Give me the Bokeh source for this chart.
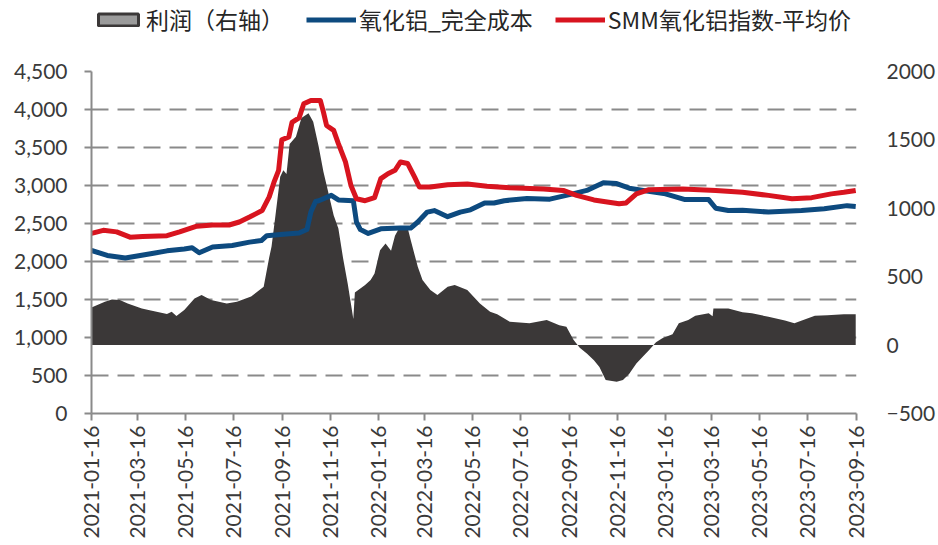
import pandas as pd
from bokeh.plotting import figure
from bokeh.layouts import column
from bokeh.models import (Range1d, LinearAxis, FixedTicker, NumeralTickFormatter,
                          DatetimeTickFormatter, Legend, LegendItem)
from bokeh.embed import file_html
from bokeh.resources import INLINE

# ---- SMM 氧化铝指数-平均价 (left axis, 元/吨)
smm_dates = [
    "2021-01-16", "2021-01-31", "2021-02-17", "2021-03-06", "2021-03-22", "2021-04-22",
    "2021-05-08", "2021-05-30", "2021-06-19", "2021-07-10", "2021-07-23", "2021-08-05",
    "2021-08-21", "2021-08-30", "2021-09-05", "2021-09-11", "2021-09-15", "2021-09-24",
    "2021-09-28", "2021-10-07", "2021-10-13", "2021-10-22", "2021-11-03", "2021-11-07",
    "2021-11-11", "2021-11-20", "2021-11-26", "2021-12-05", "2021-12-12", "2021-12-19",
    "2021-12-30", "2022-01-11", "2022-01-19", "2022-01-28", "2022-02-06", "2022-02-13",
    "2022-02-22", "2022-03-03", "2022-03-09", "2022-03-23", "2022-04-14", "2022-05-09",
    "2022-06-03", "2022-07-02", "2022-08-14", "2022-09-08", "2022-09-25", "2022-10-17",
    "2022-11-05", "2022-11-18", "2022-11-27", "2022-12-10", "2022-12-26", "2023-02-07",
    "2023-03-21", "2023-04-24", "2023-05-27", "2023-06-26", "2023-07-21", "2023-08-15",
    "2023-08-31", "2023-09-15",
]
smm_price = [
    2370, 2410, 2390, 2320, 2330, 2340,
    2390, 2465, 2480, 2480, 2520, 2585,
    2670, 2850, 3040, 3200, 3600, 3640,
    3830, 3890, 4075, 4120, 4120, 3965,
    3790, 3725, 3550, 3310, 3000, 2825,
    2800, 2840, 3090, 3155, 3200, 3310,
    3290, 3110, 2980, 2980, 3010, 3020,
    2990, 2970, 2955, 2935, 2870, 2810,
    2780, 2760, 2770, 2890, 2945, 2955,
    2935, 2910, 2870, 2825, 2840, 2890,
    2910, 2935,
]

# ---- 氧化铝_完全成本 (left axis, 元/吨)
cost_dates = [
    "2021-01-16", "2021-02-05", "2021-02-28", "2021-03-19", "2021-04-03", "2021-04-22",
    "2021-05-14", "2021-05-24", "2021-06-02", "2021-06-19", "2021-07-14", "2021-08-05",
    "2021-08-20", "2021-08-27", "2021-09-17", "2021-10-07", "2021-10-17", "2021-10-22",
    "2021-10-28", "2021-11-01", "2021-11-17", "2021-11-26", "2021-12-15", "2021-12-19",
    "2021-12-24", "2022-01-03", "2022-01-19", "2022-02-13", "2022-02-26", "2022-03-07",
    "2022-03-19", "2022-03-28", "2022-04-14", "2022-04-30", "2022-05-13", "2022-05-31",
    "2022-06-12", "2022-06-25", "2022-07-24", "2022-08-22", "2022-09-16", "2022-10-08",
    "2022-10-29", "2022-11-15", "2022-12-01", "2022-12-19", "2023-01-16", "2023-02-10",
    "2023-03-12", "2023-03-21", "2023-04-06", "2023-04-24", "2023-05-27", "2023-07-08",
    "2023-08-06", "2023-09-04", "2023-09-15",
]
full_cost = [
    2145, 2080, 2045, 2080, 2105, 2140,
    2165, 2180, 2115, 2190, 2210, 2255,
    2275, 2340, 2360, 2375, 2420, 2650,
    2790, 2800, 2870, 2810, 2800, 2520,
    2420, 2370, 2430, 2440, 2440, 2520,
    2650, 2670, 2590, 2650, 2680, 2770,
    2770, 2800, 2830, 2820, 2880, 2935,
    3035, 3025, 2965, 2935, 2890, 2815,
    2815, 2700, 2670, 2675, 2650, 2670,
    2695, 2735, 2725,
]

# ---- 利润 (right axis, 元/吨)
profit_dates = [
    "2021-01-16", "2021-02-02", "2021-02-11", "2021-02-21", "2021-03-03", "2021-03-21",
    "2021-03-31", "2021-04-22", "2021-04-28", "2021-05-04", "2021-05-14", "2021-05-27",
    "2021-06-05", "2021-06-17", "2021-07-07", "2021-07-20", "2021-08-07", "2021-08-23",
    "2021-08-30", "2021-09-02", "2021-09-07", "2021-09-13", "2021-09-17", "2021-09-21",
    "2021-09-25", "2021-10-03", "2021-10-10", "2021-10-19", "2021-10-25", "2021-11-01",
    "2021-11-07", "2021-11-13", "2021-11-20", "2021-11-26", "2021-12-02", "2021-12-08",
    "2021-12-12", "2021-12-15", "2021-12-17", "2021-12-30", "2022-01-06", "2022-01-11",
    "2022-01-18", "2022-01-25", "2022-02-01", "2022-02-06", "2022-02-10", "2022-02-22",
    "2022-02-26", "2022-03-07", "2022-03-13", "2022-03-23", "2022-04-01", "2022-04-14",
    "2022-04-23", "2022-05-09", "2022-05-25", "2022-06-07", "2022-06-16", "2022-07-02",
    "2022-07-27", "2022-08-18", "2022-09-03", "2022-09-12", "2022-09-21", "2022-09-29",
    "2022-10-08", "2022-10-17", "2022-10-24", "2022-11-01", "2022-11-15", "2022-11-23",
    "2022-12-01", "2022-12-10", "2022-12-19", "2022-12-26", "2023-01-04", "2023-01-12",
    "2023-01-25", "2023-02-02", "2023-02-14", "2023-02-23", "2023-03-12", "2023-03-17",
    "2023-03-18", "2023-04-06", "2023-04-24", "2023-05-06", "2023-05-27", "2023-06-17",
    "2023-06-29", "2023-07-25", "2023-08-10", "2023-08-31", "2023-09-15",
]
profit = [
    275, 317, 334, 330, 305, 268,
    255, 228, 244, 212, 256, 341,
    366, 329, 305, 317, 355, 426,
    640, 720, 950, 1230, 1279, 1250,
    1470, 1523, 1660, 1694, 1632, 1450,
    1267, 1121, 950, 853, 634, 445,
    300, 190, 385, 439, 475, 524,
    694, 743, 690, 800, 841, 860,
    768, 572, 475, 402, 366, 426,
    439, 402, 305, 244, 225, 170,
    159, 183, 146, 134, 40, -20,
    -61, -110, -160, -256, -268, -256,
    -210, -134, -80, -37, 20, 50,
    80, 159, 183, 215, 232, 210,
    268, 268, 240, 232, 207, 180,
    159, 215, 219, 225, 225,
]

# x-axis ticks: the 16th of every second month
tick_labels = [
    "2021-01-16", "2021-03-16", "2021-05-16", "2021-07-16", "2021-09-16", "2021-11-16",
    "2022-01-16", "2022-03-16", "2022-05-16", "2022-07-16", "2022-09-16", "2022-11-16",
    "2023-01-16", "2023-03-16", "2023-05-16", "2023-07-16", "2023-09-16",
]
left_ticks = [0, 500, 1000, 1500, 2000, 2500, 3000, 3500, 4000, 4500]
right_ticks = [-500, 0, 500, 1000, 1500, 2000]
legend_labels = ["利润（右轴）", "氧化铝_完全成本", "SMM氧化铝指数-平均价"]

RED = "#d8141f"
BLUE = "#0d4a7f"
AREA = "#3b3838"
GRID = "#8a8a8a"
TEXT = "#3a3a3a"
NUM_FONT = "Lato"
CJK_FONT = "Noto Sans CJK SC"

to_dt = lambda s: pd.to_datetime(pd.Series(s))

# ---------------- main chart ----------------
p = figure(width=938, height=507, x_axis_type="datetime",
           output_backend="svg", toolbar_location=None,
           x_range=Range1d(pd.Timestamp(tick_labels[0]), pd.Timestamp(tick_labels[-1])),
           y_range=Range1d(0, 4500),
           min_border_left=91, min_border_right=76,
           min_border_top=33, min_border_bottom=132)
p.outline_line_color = None
p.background_fill_color = "white"
p.border_fill_color = "white"
p.extra_y_ranges = {"right": Range1d(-500, 2000)}

# profit area against the right axis
p.varea(x=to_dt(profit_dates), y1=0, y2=profit, y_range_name="right",
        fill_color=AREA)
p.line(to_dt(cost_dates), full_cost, line_color=BLUE, line_width=5, line_join="round")
p.line(to_dt(smm_dates), smm_price, line_color=RED, line_width=5, line_join="round")

# axes
p.xaxis.ticker = FixedTicker(ticks=[pd.Timestamp(t).value / 1e6 for t in tick_labels])
p.xaxis.formatter = DatetimeTickFormatter(days="%Y-%m-%d", months="%Y-%m-%d",
                                          years="%Y-%m-%d")
p.xaxis.major_label_orientation = 1.5707963
p.xaxis.axis_line_color = GRID
p.xaxis.axis_line_width = 2
p.xaxis.major_tick_line_color = GRID
p.xaxis.major_tick_line_width = 2
p.xaxis.major_tick_out = 7
p.xaxis.major_tick_in = 0
p.xaxis.minor_tick_line_color = None
p.xaxis.major_label_standoff = 5

p.yaxis.ticker = FixedTicker(ticks=left_ticks)
p.yaxis.formatter = NumeralTickFormatter(format="0,0")
p.yaxis.axis_line_color = GRID
p.yaxis.axis_line_width = 2
p.yaxis.major_tick_line_color = GRID
p.yaxis.major_tick_line_width = 2
p.yaxis.major_tick_out = 7
p.yaxis.major_tick_in = 0
p.yaxis.minor_tick_line_color = None
p.yaxis.major_label_standoff = 17

right_axis = LinearAxis(y_range_name="right", ticker=FixedTicker(ticks=right_ticks),
                        axis_line_color=None, major_tick_line_color=None,
                        minor_tick_line_color=None, major_label_standoff=24)
p.add_layout(right_axis, "right")

for ax in (p.xaxis[0], p.yaxis[0], right_axis):
    ax.major_label_text_font = NUM_FONT
    ax.major_label_text_font_size = "21px"
    ax.major_label_text_color = TEXT

# grid: dashed horizontal lines only
p.xgrid.grid_line_color = None
p.ygrid.ticker = FixedTicker(ticks=left_ticks[1:])
p.ygrid.grid_line_color = GRID
p.ygrid.grid_line_width = 2
p.ygrid.grid_line_dash = "17 9"

# ---------------- legend strip ----------------
lg = figure(width=938, height=38, output_backend="svg", toolbar_location=None,
            x_range=Range1d(0, 1), y_range=Range1d(0, 1),
            x_axis_location=None, y_axis_location=None,
            min_border=0, outline_line_color=None)
lg.grid.visible = False
# legend-only renderers, kept outside the strip's visible range
sw = lg.quad(left=[2], right=[3], bottom=[2], top=[3], fill_color="#9b9b9b",
             line_color=AREA, line_width=3)
ln_cost = lg.line([2, 3], [2, 3], line_color=BLUE, line_width=5)
ln_smm = lg.line([2, 3], [2, 3], line_color=RED, line_width=5)

legend = Legend(items=[
    LegendItem(label=legend_labels[0], renderers=[sw]),
    LegendItem(label=legend_labels[1], renderers=[ln_cost]),
    LegendItem(label=legend_labels[2], renderers=[ln_smm]),
], orientation="horizontal", location=(2, 2), margin=0, padding=4,
    spacing=22, glyph_width=50, glyph_height=15, label_standoff=3,
    label_text_font=CJK_FONT, label_text_font_size="23px", label_text_color="#262626",
    border_line_color=None, background_fill_alpha=0)
lg.add_layout(legend)

layout = column(lg, p, spacing=0)
open("out.html", "w").write(file_html(layout, INLINE))
